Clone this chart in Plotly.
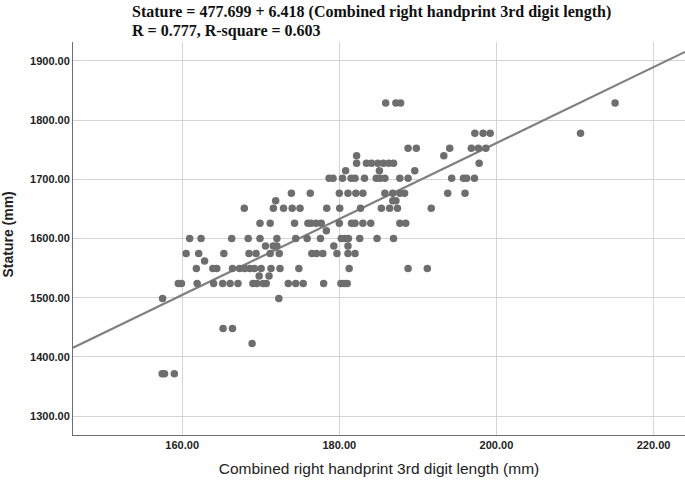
import numpy as np
import plotly.graph_objects as go

# Stature rows (inches converted to mm) and the handprint lengths (mm) at each row
rows = {
    72.0: [185.9, 187.2, 187.8, 215.1],
    70.0: [197.25, 198.3, 199.2, 210.7],
    69.0: [188.75, 189.8, 194.05, 196.8, 197.7, 198.65],
    68.5: [182.2, 193.3],
    68.0: [182.2, 183.45, 184.1, 184.9, 185.6, 186.3, 186.9, 197.8],
    67.5: [180.8, 185.1, 189.6],
    67.0: [178.7, 179.2, 180.4, 181.5, 182.0, 183.2, 184.7, 185.2, 185.8, 187.7, 188.75, 194.3, 195.8, 196.2, 197.2],
    66.0: [173.9, 176.3, 180.0, 181.1, 182.1, 183.0, 185.8, 186.8, 187.7, 188.3, 193.8, 196.0],
    65.5: [171.9, 186.8, 187.2],
    65.0: [167.9, 171.6, 172.9, 174.0, 175.0, 178.4, 180.05, 182.7, 185.35, 186.4, 187.4, 191.7],
    64.0: [169.9, 171.2, 174.3, 176.0, 176.4, 177.05, 177.7, 180.0, 181.55, 182.0, 183.0, 184.0, 187.7, 188.45],
    63.5: [178.35],
    63.0: [160.95, 162.4, 166.3, 168.4, 169.9, 172.05, 174.45, 175.9, 177.6, 180.25, 180.7, 181.15, 182.6, 184.8, 186.9],
    62.5: [170.6, 171.6, 172.05, 179.3, 181.1],
    62.0: [160.5, 162.1, 165.3, 168.5, 169.4, 171.2, 172.35, 176.5, 177.1, 177.9, 179.7, 181.1, 182.0],
    61.5: [162.85],
    61.0: [161.8, 163.9, 164.4, 166.4, 167.3, 167.95, 168.6, 169.2, 170.05, 171.3, 172.45, 174.85, 181.25, 188.75, 191.2],
    60.5: [169.8, 171.05],
    60.0: [159.5, 159.9, 161.9, 164.0, 165.15, 166.1, 167.1, 169.0, 169.5, 170.3, 170.7, 173.5, 174.45, 175.4, 178.0, 180.2, 180.6, 181.0],
    59.0: [157.5, 172.3],
    57.0: [165.2, 166.4],
    56.0: [168.9],
    54.0: [157.45, 157.75, 159.0],
}

handprint = []
stature = []
for inch, xs in rows.items():
    for xv in xs:
        handprint.append(xv)
        stature.append(round(inch * 25.4, 1))

intercept = 477.699
slope = 6.418

x_range = [146.1, 224.0]
y_range = [1268, 1932]
x_ticks = [160, 180, 200, 220]
y_ticks = [1300, 1400, 1500, 1600, 1700, 1800, 1900]

line_x = np.array(x_range)
line_y = intercept + slope * line_x

fig = go.Figure()
fig.add_trace(go.Scatter(
    x=line_x, y=line_y, mode="lines",
    line=dict(color="#808080", width=2.2), hoverinfo="skip", showlegend=False,
))
fig.add_trace(go.Scatter(
    x=handprint, y=stature, mode="markers",
    marker=dict(color="#6e6e6e", size=7.5, line=dict(width=0)),
    showlegend=False,
))

fig.update_layout(
    width=685, height=485,
    margin=dict(l=73, r=0, t=42, b=50, autoexpand=False),
    paper_bgcolor="white", plot_bgcolor="white",
    showlegend=False,
    annotations=[
        dict(text="<b>Stature = 477.699 + 6.418 (Combined right handprint 3rd digit length)</b>",
             xref="paper", yref="paper", x=0.093, y=1.0, xanchor="left", yanchor="bottom",
             yshift=19, showarrow=False,
             font=dict(family="Liberation Serif", size=16, color="#111111")),
        dict(text="<b>R = 0.777, R-square = 0.603</b>",
             xref="paper", yref="paper", x=0.093, y=1.0, xanchor="left", yanchor="bottom",
             yshift=0, showarrow=False,
             font=dict(family="Liberation Serif", size=16, color="#111111")),
        dict(text="<b>Stature (mm)</b>", textangle=-90,
             xref="paper", yref="paper", x=0, y=0.51, xanchor="center", yanchor="middle",
             xshift=-65, showarrow=False,
             font=dict(family="Liberation Sans", size=14, color="#222222")),
    ],
)
fig.update_xaxes(
    range=x_range, tickvals=x_ticks, tickformat=".2f",
    showgrid=True, gridcolor="#d4d4d4", gridwidth=1,
    showline=True, linecolor="#6e6e6e", linewidth=1,
    zeroline=False, ticks="",
    tickfont=dict(family="Liberation Sans", size=11, color="#222222", weight="bold"),
    title=dict(text="Combined right handprint 3rd digit length (mm)",
               font=dict(family="Liberation Sans", size=15.5, color="#222222"), standoff=12),
)
fig.update_yaxes(
    range=y_range, tickvals=y_ticks, tickformat=".2f",
    showgrid=True, gridcolor="#d4d4d4", gridwidth=1,
    showline=True, linecolor="#6e6e6e", linewidth=1,
    zeroline=False, ticks="",
    tickfont=dict(family="Liberation Sans", size=11, color="#222222", weight="bold"),
)

fig.write_html("out.html", config={"displayModeBar": False},
               post_script="document.body.style.margin='0';")
